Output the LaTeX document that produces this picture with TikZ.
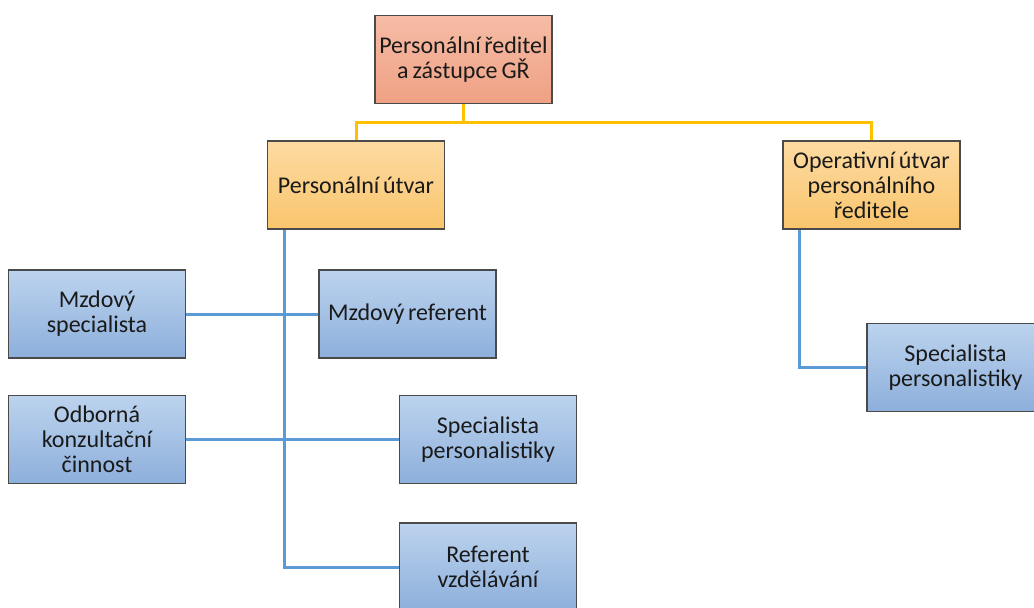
\documentclass[tikz,border=0pt]{standalone}
\usepackage{fontspec}
\setmainfont{Carlito}
\usetikzlibrary{backgrounds}
\definecolor{boxedge}{HTML}{4A4A4A}
\definecolor{txt}{HTML}{1A1A1A}
\definecolor{linkblue}{HTML}{5B9BD5}
\definecolor{linkgold}{HTML}{FFC000}
\definecolor{headtop}{HTML}{F6BCA6}
\definecolor{headbot}{HTML}{EFA183}
\definecolor{unittop}{HTML}{FDDBA2}
\definecolor{unitbot}{HTML}{F9C56C}
\definecolor{stafftop}{HTML}{BCD3EE}
\definecolor{staffbot}{HTML}{8DAFDB}
\tikzset{
  orgbox/.style={draw=boxedge, line width=1.3pt, minimum width=177pt, minimum height=88pt,
    text width=176pt, align=center, inner sep=0pt, text=txt,
    font=\fontsize{24}{25}\selectfont,
    execute at begin node={\spaceskip=0.14em plus 0.05em\relax}},
  headbox/.style={orgbox, top color=headtop, bottom color=headbot},
  unitbox/.style={orgbox, top color=unittop, bottom color=unitbot},
  staffbox/.style={orgbox, top color=stafftop, bottom color=staffbot},
  goldlink/.style={draw=linkgold, line width=3pt},
  bluelink/.style={draw=linkblue, line width=3pt},
}
\begin{document}
\begin{tikzpicture}[x=1pt,y=-1pt]
  \clip (0,0) rectangle (1034,608);

  % management level
  \node[headbox] (head) at (463.5,59.5) {Personální ředitel\\a zástupce GŘ};

  % departments
  \node[unitbox] (pu) at (356,185) {Personální útvar};
  \node[unitbox] (op) at (871.5,185) {Operativní útvar\\personálního\\ředitele};

  % staff positions
  \node[staffbox] (ms) at (97,314) {Mzdový\\specialista};
  \node[staffbox] (mr) at (407.5,314) {Mzdový referent};
  \node[staffbox] (ok) at (97,439.5) {Odborná\\konzultační\\činnost};
  \node[staffbox] (sp) at (488,439.5) {Specialista\\personalistiky};
  \node[staffbox] (rv) at (488,567) {Referent\\vzdělávání};
  \node[staffbox] (sr) at (955.5,367.5) {Specialista\\personalistiky};

  \begin{pgfonlayer}{background}
    % links from the director
    \draw[goldlink] (head.south) -- ++(0,18) coordinate (bar);
    \draw[goldlink] (bar) -| (pu.north);
    \draw[goldlink] (bar) -| (op.north);
    % personnel department tree
    \draw[bluelink] ([xshift=18pt]pu.south west) |- (rv.west);
    \draw[bluelink] (ms.east) -- (mr.west);
    \draw[bluelink] (ok.east) -- (sp.west);
    % operative department
    \draw[bluelink] ([xshift=17pt]op.south west) |- (sr.west);
  \end{pgfonlayer}
\end{tikzpicture}
\end{document}
